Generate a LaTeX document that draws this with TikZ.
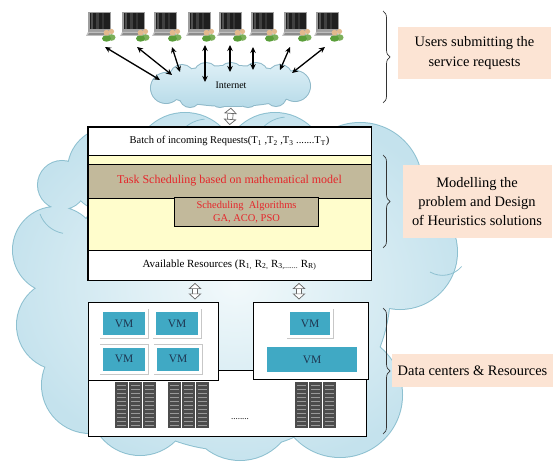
\documentclass[tikz,border=0pt]{standalone}
\usepackage{fontspec}
\setmainfont{Liberation Serif}
\usetikzlibrary{arrows.meta,decorations.pathreplacing,calc}

\definecolor{cloudline}{HTML}{8DC0D0}
\definecolor{cloudin}{HTML}{F2F9FB}
\definecolor{cloudout}{HTML}{C4E2ED}
\definecolor{nettop}{HTML}{E2F2F8}
\definecolor{netbot}{HTML}{B4D9E7}
\definecolor{netline}{HTML}{8FB9C9}
\definecolor{softyellow}{HTML}{FFFDCC}
\definecolor{khaki}{HTML}{C2B99B}
\definecolor{algred}{HTML}{E5262B}
\definecolor{peach}{HTML}{FCE4D4}
\definecolor{vmteal}{HTML}{40A9C4}
\definecolor{vmtext}{HTML}{1E3550}
\definecolor{skin}{HTML}{E2B98E}
\definecolor{usergreen}{HTML}{5A9E3A}
\definecolor{userback}{HTML}{7BAF5A}

\begin{document}
\begin{tikzpicture}[x=1bp,y=-1bp,
  bigcloud/.style={insert path={
    (62,185) circle[radius=24bp]
    (110,170) circle[radius=42bp]
    (185,165) circle[radius=52bp]
    (275,165) circle[radius=52bp]
    (360,185) circle[radius=62bp]
    (400,252) circle[radius=57bp]
    (340,395) circle[radius=62bp]
    (240,405) circle[radius=55bp]
    (140,405) circle[radius=50bp]
    (90,385) circle[radius=48bp]
    (62,325) circle[radius=45bp]
    (56,250) circle[radius=43bp]
    (230,290) circle[radius=160bp]}},
  netcloud/.style={insert path={
    (231,86) ellipse[x radius=72bp, y radius=20bp]
    (166,88) circle[radius=15bp]
    (295,86) circle[radius=15bp]
    (182,77) circle[radius=12bp]
    (206,75) circle[radius=12bp]
    (231,76) circle[radius=13bp]
    (256,75) circle[radius=12bp]
    (280,77) circle[radius=12bp]
    (190,97) circle[radius=10bp]
    (220,98) circle[radius=9bp]
    (248,97) circle[radius=10bp]
    (276,96) circle[radius=10bp]}},
  link/.style={line width=1.3bp,
    {Stealth[length=6bp,width=5.5bp]}-{Stealth[length=6bp,width=5.5bp]}},
  hollow/.style={draw=black!60, line width=.7bp, double=white,
    double distance=4.5bp,
    {Triangle[length=6bp,width=13bp,fill=white]}-{Triangle[length=6bp,width=13bp,fill=white]}},
  row/.style={draw=black, line width=.9bp, minimum width=283bp, inner sep=0pt},
  dcbox/.style={draw=black, line width=1bp, fill=white, inner sep=0pt},
  vm/.style={fill=vmteal, draw=white, line width=3bp, text=vmtext,
    font=\fontsize{11.5}{13}\selectfont, inner sep=0pt,
    preaction={draw=black!22, line width=4.2bp,
      transform canvas={xshift=.4bp,yshift=-.5bp}}},
  lab/.style={fill=peach, align=center, inner sep=0pt,
    font=\fontsize{14.5}{19.5}\selectfont},
  bracket/.style={draw=black!80, line width=.7bp,
    decorate, decoration={brace, amplitude=7bp}},
  computer/.pic={
    \fill[black!38] (0,0) rectangle (23,20);
    \fill[black!88] (1.5,1.5) rectangle (21.5,17);
    \fill[white,opacity=.22] (3,1.5) rectangle (5,17);
    \fill[white,opacity=.15] (8,1.5) rectangle (11,17);
    \fill[white,opacity=.10] (14,1.5) rectangle (15.5,17);
    \fill[black!25] (0,20) -- (21,20) -- (23,24) -- (-2,24) -- cycle;
    \fill[black!45] (1,21.2) -- (20,21.2) -- (21,23) -- (0,23) -- cycle;
    \fill[userback] (23.5,25.5) ellipse[x radius=4bp, y radius=3.3bp];
    \fill[skin] (23.5,19.5) circle[radius=2.6bp];
    \fill[usergreen] (18.5,26.5) ellipse[x radius=4.5bp, y radius=3.2bp];
    \fill[skin] (18.5,20.7) circle[radius=2.9bp];
  },
  rack/.pic={
    \foreach \i in {0,1,2}{
      \fill[black!70] ({\i*14},0) rectangle ++(13,46);
      \foreach \j in {3,7,...,43}
        \fill[black!40] ({\i*14+2},\j) rectangle ++(9,1.4);
    }
  }
]
\useasboundingbox (0,0) rectangle (559,468);

% ---------- background cloud ----------
\draw[cloudline, line width=2bp, bigcloud];
\begin{scope}
  \clip[bigcloud];
  \shade[inner color=cloudin, outer color=cloudout] (0,100) rectangle (470,470);
\end{scope}
\draw[cloudline, line width=.8bp] (178,136) arc[start angle=150, end angle=95, radius=34bp];
\draw[cloudline, line width=.8bp] (258,134) arc[start angle=150, end angle=95, radius=34bp];
\draw[cloudline, line width=.8bp] (430,272) arc[start angle=-120, end angle=-40, radius=25bp];
\draw[cloudline, line width=.8bp] (40,214) arc[start angle=200, end angle=260, radius=30bp];

% ---------- internet cloud ----------
\draw[netline, line width=2bp, netcloud];
\begin{scope}
  \clip[netcloud];
  \shade[top color=nettop, bottom color=netbot] (150,58) rectangle (312,110);
\end{scope}
\node[minimum width=150bp, minimum height=44bp, inner sep=0pt,
      font=\fontsize{10}{12}\selectfont] (internet) at (231,85) {Internet};

% ---------- users ----------
\foreach \x in {88,122,154,188,219,251,284,316}
  \pic at (\x,12) {computer};

\coordinate (u1) at (105,47);  \coordinate (v1) at (160,80);
\coordinate (u2) at (137,47);  \coordinate (v2) at (172,75);
\coordinate (u3) at (172,47);  \coordinate (v3) at (180,72);
\coordinate (u4) at (205,45);  \coordinate (v4) at (205,82);
\coordinate (u5) at (230,45);  \coordinate (v5) at (230,72);
\coordinate (u6) at (253,47);  \coordinate (v6) at (253,70);
\coordinate (u7) at (290,47);  \coordinate (v7) at (280,70);
\coordinate (u8) at (325,47);  \coordinate (v8) at (292,73);
\foreach \k in {1,...,8}
  \draw[link] (u\k) -- (v\k);

% ---------- scheduling block ----------
\node[row, fill=white, minimum height=28bp,
      font=\fontsize{10.5}{12}\selectfont] (batch) at (229.5,141)
  {Batch of incoming Requests(T\textsubscript{1} ,T\textsubscript{2} ,T\textsubscript{3} .......T\textsubscript{T})};
\node[row, fill=softyellow, minimum height=95bp] (model) at (229.5,202.5) {};
\node[row, fill=khaki, minimum height=34bp, text=algred,
      font=\fontsize{12}{14}\selectfont] (task) at (229.5,181)
  {Task Scheduling based on mathematical model};
\node[draw=black, line width=.9bp, fill=khaki, minimum width=144bp,
      minimum height=29bp, inner sep=0pt, text=algred, align=center,
      font=\fontsize{10.5}{12.5}\selectfont] (algo) at (246.5,212)
  {Scheduling\ \ Algorithms\\GA, ACO, PSO};
\node[row, fill=white, minimum height=30bp,
      font=\fontsize{11}{13}\selectfont] (avail) at (229.5,265)
  {Available Resources (R\textsubscript{1,} R\textsubscript{2,} R\textsubscript{3,.......} R\textsubscript{R)}};
\draw[line width=1.3bp] (batch.north west) rectangle (avail.south east);

\draw[hollow, shorten <=0.5bp, shorten >=1.5bp] (internet.south) -- (batch.north);

% ---------- data centres ----------
\node[dcbox, minimum width=278bp, minimum height=66bp] (racks) at (227,403) {};
\node[dcbox, minimum width=130bp, minimum height=78bp] (vmsL) at (153,341) {};
\node[dcbox, minimum width=115bp, minimum height=77bp] (vmsR) at (310.5,340.5) {};

\coordinate (la) at (195,0);
\coordinate (ra) at (299,0);
\draw[hollow, shorten <=2.5bp, shorten >=2bp] (avail.south -| la) -- (vmsL.north -| la);
\draw[hollow, shorten <=2.5bp, shorten >=2bp] (avail.south -| ra) -- (vmsR.north -| ra);

\node[vm, minimum width=45bp, minimum height=26bp] (vm1) at (124,323.5) {VM};
\node[vm, minimum width=45bp, minimum height=26bp] (vm2) at (177,323.5) {VM};
\node[vm, minimum width=45bp, minimum height=26bp] (vm3) at (124,359) {VM};
\node[vm, minimum width=45bp, minimum height=26bp] (vm4) at (178,359) {VM};
\node[vm, minimum width=43bp, minimum height=26bp] (vm5) at (310,323.5) {VM};
\node[fill=vmteal, text=vmtext, minimum width=90bp, minimum height=25bp,
      inner sep=0pt, font=\fontsize{11.5}{13}\selectfont] (vm6) at (312,359.5) {VM};

\pic at (115,382) {rack};
\pic at (168,382) {rack};
\pic at (295,382) {rack};
\node[font=\fontsize{9}{10}\selectfont] (dots) at (240,419) {........};

% ---------- side annotations ----------
\draw[bracket] (383,11) -- (383,103);
\draw[bracket] (383,155) -- (383,248);
\draw[bracket] (383,308) -- (383,434);

\node[lab, minimum width=153bp, minimum height=52bp] (users) at (474.5,53)
  {Users submitting the\\service requests};
\node[lab, minimum width=149bp, minimum height=73bp] (heur) at (477,201.5)
  {Modelling the\\problem and Design\\of Heuristics solutions};
\node[lab, minimum width=161bp, minimum height=33bp] (dcr) at (472.5,370.5)
  {Data centers \& Resources};
\end{tikzpicture}
\end{document}
